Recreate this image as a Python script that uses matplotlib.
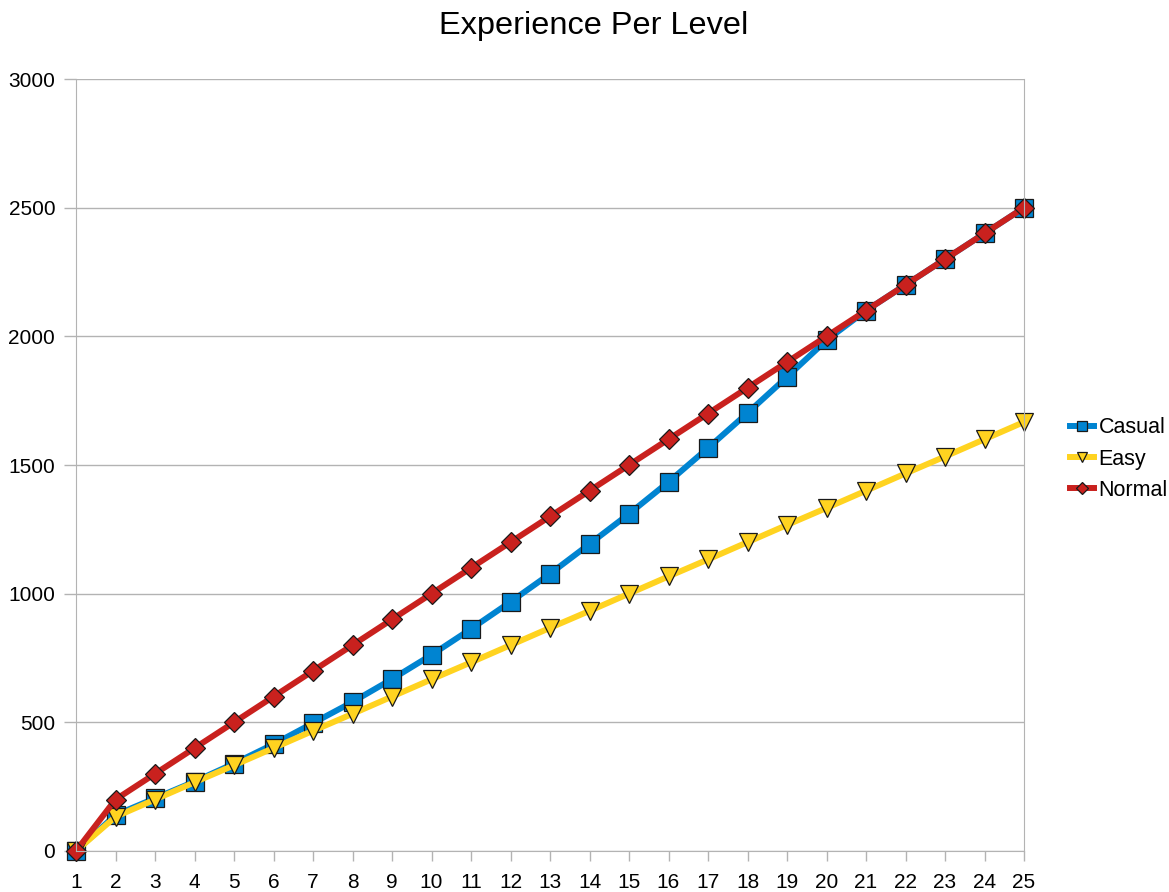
import matplotlib.pyplot as plt

plt.rcParams['font.family'] = ['Liberation Sans', 'DejaVu Sans']

levels = list(range(1, 26))

casual = [0, 140, 205, 270, 340, 415, 497, 579, 668, 762, 863, 968, 1077, 1193,
          1310, 1434, 1566, 1702, 1842, 1985, 2100, 2200, 2300, 2400, 2500]
easy = [0, 133, 200, 267, 333, 400, 467, 533, 600, 667, 733, 800, 867, 933,
        1000, 1067, 1133, 1200, 1267, 1333, 1400, 1467, 1533, 1600, 1667]
normal = [0, 200, 300, 400, 500, 600, 700, 800, 900, 1000, 1100, 1200, 1300,
          1400, 1500, 1600, 1700, 1800, 1900, 2000, 2100, 2200, 2300, 2400, 2500]

series = [
    ("Casual", casual, "#0084d1", "s", 13),
    ("Easy", easy, "#ffd320", "v", 13),
    ("Normal", normal, "#c9211e", "D", 10),
]

fig = plt.figure(figsize=(11.69, 8.92), dpi=100)
ax = fig.add_axes([76 / 1169, 1 - 851 / 892, (1024 - 76) / 1169, (851 - 79) / 892])

for name, vals, color, marker, ms in series:
    ax.plot(levels, vals, color=color, linewidth=4.3, marker=marker,
            markersize=ms, markerfacecolor=color, markeredgecolor="#1a1a1a",
            markeredgewidth=0.9, label=name, clip_on=False)

ax.set_xlim(1, 25)
ax.set_ylim(0, 3000)
ax.set_xticks(levels)
ax.set_yticks(range(0, 3001, 500))
ax.grid(axis="y", color="#b3b3b3", linewidth=1)
ax.set_axisbelow(True)
ax.spines["top"].set_visible(False)
for side in ["left", "right", "bottom"]:
    ax.spines[side].set_color("#b3b3b3")
ax.tick_params(axis="both", colors="#b3b3b3", labelcolor="black",
               labelsize=15, width=1)
ax.tick_params(axis="x", length=7.2, pad=9)
ax.tick_params(axis="y", length=8.5, pad=6.5)

fig.text(594 / 1169, 1 - 34 / 892, "Experience Per Level", ha="center",
         va="baseline", fontsize=23.4)

fig.legend(loc="center left", bbox_to_anchor=(1070 / 1169, 1 - 459 / 892),
           frameon=False, fontsize=15.5, handlelength=1.1, handletextpad=0.23,
           labelspacing=0.47, borderpad=0, borderaxespad=0, markerscale=0.6)

fig.savefig("out.png", dpi=100)
